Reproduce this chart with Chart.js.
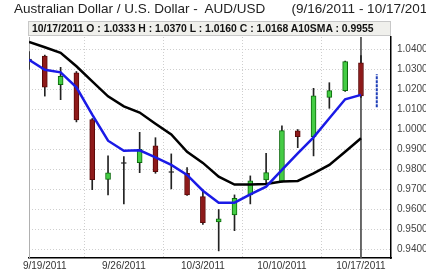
<!DOCTYPE html>
<html>
<head>
<meta charset="utf-8">
<script src="https://cdn.jsdelivr.net/npm/chart.js@4.4.1/dist/chart.umd.min.js"></script>
<style>
  html,body{margin:0;padding:0;background:#fff;}
  #wrap{position:relative;width:426px;height:273px;overflow:hidden;}
  #title{position:absolute;left:14px;top:1px;font:13.5px "Liberation Sans",Arial,sans-serif;color:#222;white-space:pre;}
  #hdr{position:absolute;left:28px;top:21px;width:363px;height:15px;background:#f0f0ec;border:1px solid #c8c8c8;box-sizing:border-box;font:bold 10.4px "Liberation Sans",Arial,sans-serif;color:#111;white-space:pre;line-height:13px;padding-left:3px;overflow:hidden;}
  canvas{position:absolute;left:0;top:0;}
</style>
</head>
<body>
<div id="wrap">
<canvas id="c" width="426" height="273"></canvas>
<div id="title">Australian Dollar / U.S. Dollar -  AUD/USD       (9/16/2011 - 10/17/2011)</div>
<div id="hdr">10/17/2011 O : 1.0333 H : 1.0370 L : 1.0160 C : 1.0168 A10SMA : 0.9955</div>
</div>
<script>
const dates = ['9/16/2011','9/19/2011','9/20/2011','9/21/2011','9/22/2011','9/23/2011','9/26/2011','9/27/2011','9/28/2011','9/29/2011','9/30/2011','10/3/2011','10/4/2011','10/5/2011','10/6/2011','10/7/2011','10/10/2011','10/11/2011','10/12/2011','10/13/2011','10/14/2011','10/17/2011','10/18/2011'];
const openV  = [1.0352,1.0367,1.0224,1.0283,1.0049,0.9750,0.9835,0.9834,0.9918,0.9790,0.9781,0.9664,0.9538,0.9573,0.9673,0.9748,0.9739,0.9993,0.9964,1.0161,1.0194,1.0333];
const highV  = [1.0390,1.0372,1.0311,1.0290,1.0055,0.9868,0.9865,0.9986,0.9959,0.9878,0.9809,0.9698,0.9600,0.9673,0.9768,0.9881,1.0018,1.0000,1.0206,1.0234,1.0342,1.0370];
const lowV   = [1.0300,1.0167,1.0149,1.0038,0.9699,0.9673,0.9628,0.9784,0.9781,0.9703,0.9670,0.9526,0.9393,0.9494,0.9628,0.9731,0.9737,0.9909,0.9868,1.0106,1.0190,1.0160];
const closeV = [1.0347,1.0212,1.0266,1.0048,0.9749,0.9783,0.9830,0.9901,0.9789,0.9785,0.9673,0.9534,0.9553,0.9656,0.9743,0.9784,0.9994,0.9964,1.0168,1.0194,1.0339,1.0168];
const smaBlue  = [1.0348,1.0299,1.0286,1.0211,1.0074,0.9944,0.9894,0.9896,0.9861,0.9823,0.9773,0.9694,0.9634,0.9634,0.9676,0.9714,0.9798,0.9881,0.9961,1.0056,1.0151,1.0173];
const sma10    = [1.0438,1.0411,1.0383,1.0316,1.0241,1.0166,1.0116,1.0085,1.0029,0.9975,0.9888,0.9833,0.9764,0.9725,0.9725,0.9728,0.9740,0.9743,0.9781,0.9823,0.9889,0.9956];
const forecastIdx = 22;
const forecastRange = [1.0111, 1.0276];
const cursorIdx = 21;
const yTicks = [0.94,0.95,0.96,0.97,0.98,0.99,1.00,1.01,1.02,1.03,1.04];
const mondayIdx = [1,6,11,16,21];

const yMin = 0.93575, yMax = 1.04625;

const isDoji = i => Math.abs(openV[i]-closeV[i]) < 0.0006;
const bodyFill = openV.map((o,i)=> isDoji(i) ? '#222' : (closeV[i] > o ? '#44cc44' : '#8e1a1a'));
const bodyBorder = openV.map((o,i)=> isDoji(i) ? '#222' : (closeV[i] > o ? '#0a6a0a' : '#5a0a0a'));

const borderPlugin = {
  id:'leftBorder',
  beforeDatasetsDraw(chart){
    const {ctx, chartArea:a} = chart;
    ctx.save();
    ctx.strokeStyle = '#b0b0b0';
    ctx.lineWidth = 1;
    ctx.beginPath();
    ctx.moveTo(a.left+0.5, a.top);
    ctx.lineTo(a.left+0.5, a.bottom);
    ctx.stroke();
    ctx.restore();
  }
};

new Chart(document.getElementById('c'), {
  data: {
    datasets: [
      {type:'line', label:'SMA', data: smaBlue.map((v,i)=>({x:i,y:v})), borderColor:'#1a1ae6', borderWidth:2.5, pointRadius:0, tension:0, order:0},
      {type:'line', label:'A10SMA', data: sma10.map((v,i)=>({x:i,y:v})), borderColor:'#000', borderWidth:2.5, pointRadius:0, tension:0, order:0},
      {type:'line', label:'cursor', data: [{x:cursorIdx,y:yMax},{x:cursorIdx,y:yMin}], borderColor:'#555', borderWidth:1, pointRadius:0, order:3},
      {type:'line', label:'forecast', data: [{x:forecastIdx,y:forecastRange[0]},{x:forecastIdx,y:forecastRange[1]}], borderColor:'#1f3fb8', borderWidth:2, borderDash:[3,1], pointRadius:0, order:0},
      {type:'bar', label:'body', data: openV.map((o,i)=>({x:i,y:[o,closeV[i]]})), backgroundColor: bodyFill, borderColor: bodyBorder, borderWidth:1, borderSkipped:false, barThickness:5, grouped:false, order:1},
      {type:'bar', label:'wick', data: lowV.map((l,i)=>({x:i,y:[l,highV[i]]})), backgroundColor:'#222', borderWidth:0, barThickness:1, grouped:false, order:2}
    ]
  },
  options: {
    responsive:false, animation:false, devicePixelRatio:1,
    layout:{padding:{top:37,left:29,right:0,bottom:0}},
    plugins:{legend:{display:false}, tooltip:{enabled:false}},
    scales:{
      x:{
        type:'linear', min:0, max:22.9, offset:false,
        afterBuildTicks(s){ s.ticks = mondayIdx.map(v=>({value:v})); },
        afterFit(s){ s.height = 15; },
        ticks:{callback:(v)=>dates[v], autoSkip:false, maxRotation:0, font:{size:10, family:'"Liberation Sans", Arial'}, color:'#333', padding:2},
        grid:{color:'#cfcfcf', drawTicks:false},
        border:{display:true, color:'#000', width:1.5, dash:[1,2]}
      },
      y:{
        type:'linear', position:'right', min:yMin, max:yMax,
        afterBuildTicks(s){ s.ticks = yTicks.map(v=>({value:v})); },
        afterFit(s){ s.width = 35; },
        ticks:{callback:(v)=>v.toFixed(4), font:{size:10, family:'"Liberation Sans", Arial'}, color:'#444', padding:6},
        grid:{color:'#cfcfcf', drawTicks:false},
        border:{display:true, color:'#000', width:1.5, dash:[1,2]}
      }
    }
  },
  plugins:[borderPlugin]
});
</script>
</body>
</html>
